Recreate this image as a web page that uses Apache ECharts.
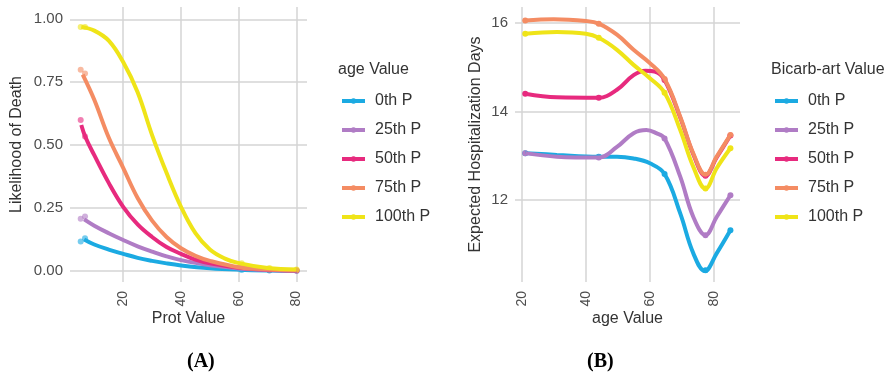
<!DOCTYPE html>
<html><head><meta charset="utf-8">
<script src="https://cdn.jsdelivr.net/npm/echarts@6/dist/echarts.min.js"></script>
<style>html,body{margin:0;padding:0;background:#fff}#c{width:893px;height:374px}</style>
</head><body><div id="c"></div>
<script>
// ---------- shared ----------
const seriesNames = ['0th P', '25th P', '50th P', '75th P', '100th P'];
const seriesColors = ['#1BAAE2', '#B07CC5', '#E72A7E', '#F48C63', '#EFE418'];

// ---------- Panel A: Likelihood of Death vs Prot Value ----------
const protTicks = [20, 40, 60, 80];
const likelihoodTicks = [0, 0.25, 0.5, 0.75, 1];
const protCurve0 = [[6.5,0.125],[10,0.105],[15,0.085],[20,0.068],[25,0.052],[30,0.04],[35,0.03],[40,0.022],[50,0.011],[60,0.005],[70,0.002],[80,0.001]];
const protCurve25 = [[6.5,0.205],[10,0.18],[15,0.15],[20,0.123],[25,0.098],[30,0.077],[35,0.058],[40,0.043],[50,0.022],[60,0.01],[70,0.004],[80,0.002]];
const protCurve50 = [[5.5,0.58],[7,0.53],[10,0.46],[15,0.35],[20,0.255],[25,0.185],[30,0.135],[35,0.095],[40,0.068],[45,0.045],[50,0.03],[60,0.013],[70,0.005],[80,0.002]];
const protCurve75 = [[6,0.78],[10,0.68],[15,0.53],[20,0.41],[25,0.29],[30,0.2],[35,0.135],[40,0.09],[45,0.06],[50,0.04],[60,0.015],[70,0.006],[80,0.003]];
const protCurve100 = [[5.5,0.97],[10,0.955],[15,0.915],[20,0.83],[25,0.71],[30,0.54],[35,0.39],[40,0.255],[45,0.15],[50,0.085],[55,0.05],[60,0.031],[70,0.012],[80,0.006]];
const protPointX = [5.3, 6.8, 61, 70.6, 80];
const protPoints0 = [0.117, 0.13, 0.004, 0.002, 0.001];
const protPoints25 = [0.207, 0.216, 0.008, 0.003, 0.001];
const protPoints50 = [0.60, 0.534, 0.012, 0.004, 0.002];
const protPoints75 = [0.80, 0.785, 0.013, 0.005, 0.003];
const protPoints100 = [0.97, 0.97, 0.031, 0.012, 0.006];

// ---------- Panel B: Expected Hospitalization Days vs age Value ----------
const ageTicks = [20, 40, 60, 80];
const daysTicks = [12, 14, 16];
const ageCurve0 = [[21,13.06],[30.9,13.02],[44,12.98],[49.7,12.98],[54.9,12.94],[60,12.83],[64.6,12.59],[69.5,11.70],[73.6,10.80],[77.2,10.40],[80.9,10.80],[85.2,11.32]];
const ageCurve25 = [[21,13.06],[30.9,12.98],[44,12.96],[49.7,13.2],[54.9,13.51],[58.9,13.58],[62,13.51],[64.6,13.39],[69.5,12.53],[73.6,11.62],[77.4,11.21],[80.9,11.62],[85.2,12.11]];
const ageCurve50 = [[21,14.40],[30.9,14.32],[44,14.31],[49.7,14.49],[54.9,14.82],[58.6,14.92],[61.5,14.9],[64.6,14.71],[69.5,13.86],[73.6,13.03],[77.4,12.55],[80.9,12.96],[85.2,13.46]];
const ageCurve75 = [[21,16.05],[29.9,16.08],[40,16.04],[44,15.98],[49.7,15.73],[54.9,15.39],[60,15.09],[64.6,14.73],[69.5,13.88],[73.6,13.05],[77.4,12.57],[80.9,12.98],[85.2,13.47]];
const ageCurve100 = [[21,15.75],[30.9,15.79],[40,15.75],[44,15.66],[49.7,15.39],[54.9,15.05],[60,14.75],[64.6,14.42],[69.5,13.58],[73.6,12.75],[77.4,12.26],[80.9,12.72],[85.2,13.17]];
const agePointX = [21, 44, 64.6, 77.4, 85.2];
const agePoints0 = [13.06, 12.98, 12.59, 10.42, 11.32];
const agePoints25 = [13.06, 12.96, 13.39, 11.21, 12.11];
const agePoints50 = [14.40, 14.31, 14.71, 12.55, 13.46];
const agePoints75 = [16.05, 15.98, 14.73, 12.57, 13.47];
const agePoints100 = [15.75, 15.66, 14.42, 12.26, 13.17];

// ---------- build ----------
const FONT = '"Liberation Sans", Arial, sans-serif';
const tickColor = '#4d4d4d';
const titleColor = '#333333';
const gridColor = '#d5d5d5';

const protCurves = [protCurve0, protCurve25, protCurve50, protCurve75, protCurve100];
const protPts = [protPoints0, protPoints25, protPoints50, protPoints75, protPoints100];
const ageCurves = [ageCurve0, ageCurve25, ageCurve50, ageCurve75, ageCurve100];
const agePts = [agePoints0, agePoints25, agePoints50, agePoints75, agePoints100];

const series = [];
function addPanel(idx, curves, pts, ptX, ptOpacity) {
  curves.forEach((c, i) => {
    series.push({
      type: 'line', name: seriesNames[i], xAxisIndex: idx, yAxisIndex: idx,
      data: c, smooth: 0.4, symbol: 'circle', showSymbol: false,
      lineStyle: { width: 4, color: seriesColors[i] }, itemStyle: { color: seriesColors[i] },
      z: 3 + i, silent: true, animation: false
    });
  });
  pts.forEach((p, i) => {
    series.push({
      type: 'scatter', name: seriesNames[i], xAxisIndex: idx, yAxisIndex: idx,
      data: p.map((v, k) => [ptX[k], v]), symbolSize: 6,
      itemStyle: { color: seriesColors[i], opacity: ptOpacity }, z: 2, silent: true, animation: false
    });
  });
}
addPanel(0, protCurves, protPts, protPointX, 0.6);
addPanel(1, ageCurves, agePts, agePointX, 1);

function xAxisCfg(idx, min, max, ticks, name) {
  return {
    gridIndex: idx, type: 'value', min: min, max: max,
    axisLine: { show: false },
    axisTick: { show: false, customValues: ticks },
    axisLabel: { customValues: ticks, rotate: 90, margin: 9, color: tickColor, fontSize: 14, fontFamily: FONT },
    splitLine: { show: true, lineStyle: { color: gridColor, width: 1.5 } },
    name: name, nameLocation: 'middle', nameGap: 29, nameMoveOverlap: false,
    nameTextStyle: { color: titleColor, fontSize: 16, fontFamily: FONT }
  };
}
function yAxisCfg(idx, min, max, ticks, name, fmt, gap) {
  return {
    gridIndex: idx, type: 'value', min: min, max: max,
    axisLine: { show: false },
    axisTick: { show: false, customValues: ticks },
    axisLabel: { customValues: ticks, margin: 7, color: tickColor, fontSize: 15, fontFamily: FONT, formatter: fmt },
    splitLine: { show: true, lineStyle: { color: gridColor, width: 1.5 } },
    name: name, nameLocation: 'middle', nameGap: gap,
    nameTextStyle: { color: titleColor, fontSize: 16, fontFamily: FONT }
  };
}

function legendCfg(left) {
  return {
    orient: 'vertical', left: left, top: 93, padding: 0,
    data: seriesNames, itemWidth: 23, itemHeight: 7, itemGap: 13,
    selectedMode: false,
    lineStyle: { width: 4 },
    textStyle: { color: titleColor, fontSize: 16, fontFamily: FONT, padding: [0, 0, 0, 5] }
  };
}

const option = {
  backgroundColor: '#ffffff',
  animation: false,
  title: [
    { text: 'age Value', left: 338, top: 62, padding: 0, textStyle: { color: titleColor, fontSize: 16, fontWeight: 'normal', fontFamily: FONT } },
    { text: 'Bicarb-art Value', left: 771, top: 62, padding: 0, textStyle: { color: titleColor, fontSize: 16, fontWeight: 'normal', fontFamily: FONT } }
  ],
  grid: [
    { left: 70, top: 7, width: 237, height: 275 },
    { left: 515, top: 7, width: 225, height: 275 }
  ],
  xAxis: [
    xAxisCfg(0, 1.6, 83.6, protTicks, 'Prot Value'),
    xAxisCfg(1, 17.8, 88.2, ageTicks, 'age Value')
  ],
  yAxis: [
    yAxisCfg(0, -0.044, 1.049, likelihoodTicks, 'Likelihood of Death', v => v.toFixed(2), 45),
    yAxisCfg(1, 10.154, 16.355, daysTicks, 'Expected Hospitalization Days', v => String(v), 31)
  ],
  legend: [legendCfg(340), legendCfg(773)],
  graphic: [
    { type: 'text', left: 187, top: 352, style: { text: '(A)', font: 'bold 20px "Liberation Serif", "Times New Roman", serif', fill: '#000' } },
    { type: 'text', left: 587, top: 352, style: { text: '(B)', font: 'bold 20px "Liberation Serif", "Times New Roman", serif', fill: '#000' } }
  ],
  series: series
};
const chart = echarts.init(document.getElementById('c'), null, { renderer: 'canvas' });
chart.setOption(option);
</script>
</body></html>
